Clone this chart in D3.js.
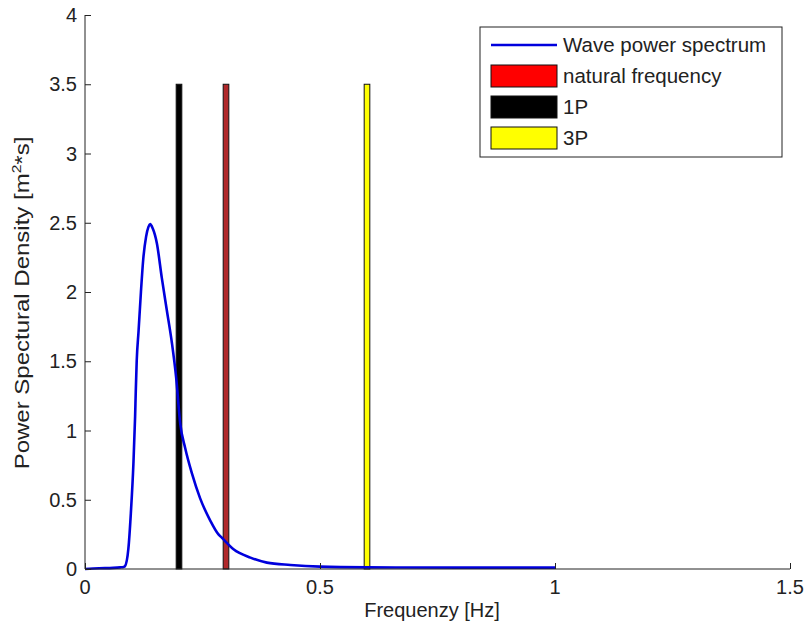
<!DOCTYPE html>
<html>
<head>
<meta charset="utf-8">
<script src="https://d3js.org/d3.v7.min.js"></script>
<style>
  body { margin: 0; background: #fff; }
  svg text { font-family: "Liberation Sans", Arial, sans-serif; fill: #222; }
</style>
</head>
<body>
<div id="chart"></div>
<script>
// wave spectrum
var freq = [0, 0.03, 0.06, 0.075, 0.082, 0.085, 0.0924, 0.0975, 0.103, 0.1066, 0.108, 0.110, 0.114, 0.119, 0.124, 0.130, 0.135, 0.1386, 0.144, 0.153, 0.1635, 0.174, 0.185, 0.194, 0.2026, 0.213, 0.2275, 0.245, 0.2665, 0.284, 0.291, 0.316, 0.352, 0.387, 0.437, 0.50, 0.6, 0.8, 1.0];
var psd  = [0, 0.005, 0.008, 0.012, 0.015, 0.02, 0.15, 0.40, 0.76, 1.10, 1.28, 1.50, 1.72, 2.00, 2.24, 2.40, 2.47, 2.49, 2.46, 2.35, 2.10, 1.87, 1.63, 1.38, 1.05, 0.875, 0.69, 0.51, 0.35, 0.25, 0.226, 0.142, 0.082, 0.046, 0.029, 0.017, 0.012, 0.01, 0.01];

// vertical bars
var barNames = ["natural frequency", "1P", "3P"];
var barFreq  = [0.3, 0.2, 0.6];
var barValue = [3.5, 3.5, 3.5];

var xTicks = [0, 0.5, 1, 1.5];
var yTicks = [0, 0.5, 1, 1.5, 2, 2.5, 3, 3.5, 4];
var legendLabels = ["Wave power spectrum", "natural frequency", "1P", "3P"];

var width = 806, height = 630;
// plot box (window.top is read-only, so no plain "top")
var plotL = 85, plotR = 790, plotT = 15, plotB = 569;

var barFill   = {"natural frequency": "#b0282a", "1P": "#000", "3P": "#ffff00"};
var swatchFill = {"natural frequency": "#ff0000", "1P": "#000", "3P": "#ffff00"};

var x = d3.scaleLinear().domain([0, 1.5]).range([plotL, plotR]);
var y = d3.scaleLinear().domain([0, 4]).range([plotB, plotT]);

var svg = d3.select("#chart").append("svg")
  .attr("width", width)
  .attr("height", height);

// bars
var bw = 0.012;
svg.selectAll(".bar")
  .data(barNames)
  .enter().append("rect")
  .attr("class", "bar")
  .attr("x", function(d, i) { return x(barFreq[i] - bw / 2); })
  .attr("width", function(d, i) { return x(barFreq[i] + bw / 2) - x(barFreq[i] - bw / 2); })
  .attr("y", function(d, i) { return y(barValue[i]); })
  .attr("height", function(d, i) { return y(0) - y(barValue[i]); })
  .attr("fill", function(d) { return barFill[d]; })
  .attr("stroke", "#111")
  .attr("stroke-width", 1);

// spectrum line
var pts = freq.map(function(f, i) { return [f, psd[i]]; });
svg.append("path")
  .datum(pts)
  .attr("fill", "none")
  .attr("stroke", "#0000dd")
  .attr("stroke-width", 2.6)
  .attr("stroke-linejoin", "round")
  .attr("d", d3.line()
    .x(function(d) { return x(d[0]); })
    .y(function(d) { return y(d[1]); })
    .curve(d3.curveMonotoneX));

// axes, ticks pointing inward like matlab
var xAxis = svg.append("g")
  .attr("transform", "translate(0," + plotB + ")")
  .call(d3.axisTop(x).tickValues(xTicks).tickSize(6).tickFormat(""));
xAxis.select(".domain").attr("d", "M" + plotL + ",0H" + plotR);
svg.selectAll(".xlab")
  .data(xTicks)
  .enter().append("text")
  .attr("class", "xlab")
  .attr("x", function(d) { return x(d); })
  .attr("y", plotB + 25)
  .attr("text-anchor", "middle")
  .attr("font-size", 20)
  .text(function(d) { return d; });

var yAxis = svg.append("g")
  .attr("transform", "translate(" + plotL + ",0)")
  .call(d3.axisRight(y).tickValues(yTicks).tickSize(6).tickFormat(""));
yAxis.select(".domain").attr("d", "M0," + plotT + "V" + plotB);
svg.selectAll(".ylab")
  .data(yTicks)
  .enter().append("text")
  .attr("class", "ylab")
  .attr("x", plotL - 8)
  .attr("y", function(d) { return y(d); })
  .attr("dy", "0.36em")
  .attr("text-anchor", "end")
  .attr("font-size", 20)
  .text(function(d) { return d; });

svg.selectAll(".domain, .tick line").attr("stroke", "#222");

// axis titles
svg.append("text")
  .attr("x", 432)
  .attr("y", 617)
  .attr("text-anchor", "middle")
  .attr("font-size", 20)
  .text("Frequenzy [Hz]");

// the y title is drawn longer in the picture, so stretch it along its run
var yt = svg.append("text")
  .attr("transform", "translate(29,303) rotate(-90) scale(1.2,1)")
  .attr("text-anchor", "middle")
  .attr("font-size", 20);
yt.append("tspan").text("Power Spectural Density [m");
yt.append("tspan").attr("font-size", 13).attr("dy", -8).text("2");
yt.append("tspan").attr("dy", 8).text("*s]");

// legend
var lg = svg.append("g");
lg.append("rect")
  .attr("x", 480).attr("y", 27)
  .attr("width", 302).attr("height", 130)
  .attr("fill", "#fff")
  .attr("stroke", "#222");

var rowY = d3.scaleLinear().domain([0, 3]).range([45, 138]);
lg.append("line")
  .attr("x1", 491).attr("x2", 557)
  .attr("y1", rowY(0)).attr("y2", rowY(0))
  .attr("stroke", "#0000dd").attr("stroke-width", 2.6);
lg.selectAll(".sw")
  .data(barNames)
  .enter().append("rect")
  .attr("class", "sw")
  .attr("x", 491).attr("width", 66)
  .attr("y", function(d, i) { return rowY(i + 1) - 11; })
  .attr("height", 22)
  .attr("fill", function(d) { return swatchFill[d]; })
  .attr("stroke", "#111");
lg.selectAll(".lt")
  .data(legendLabels)
  .enter().append("text")
  .attr("class", "lt")
  .attr("x", 563)
  .attr("y", function(d, i) { return rowY(i); })
  .attr("dy", "0.36em")
  .attr("font-size", 20.5)
  .text(function(d) { return d; });
</script>
</body>
</html>
